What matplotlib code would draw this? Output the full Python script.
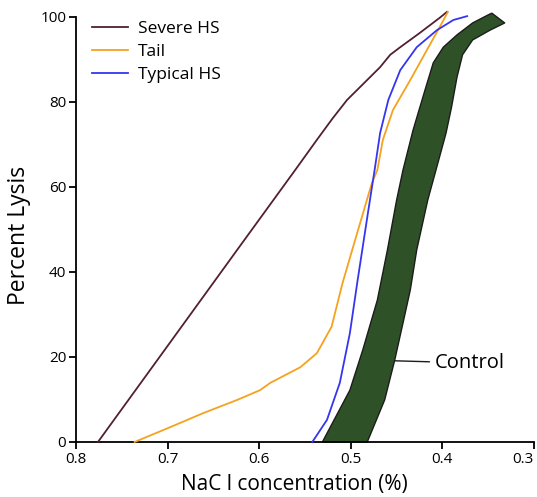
import numpy as np
import matplotlib
matplotlib.use('Agg')
import matplotlib.pyplot as plt

plt.rcParams['font.family'] = ['Open Sans', 'DejaVu Sans']

# values (NaCl %, percent lysis)
severe_x = [0.776, 0.70, 0.62, 0.56, 0.537, 0.52, 0.504, 0.482, 0.468, 0.457,
            0.446, 0.425, 0.403, 0.395]
severe_y = [0, 22.6, 46.4, 64.2, 71.1, 76.1, 80.5, 85.2, 88.2, 91.1,
            92.9, 96.2, 99.8, 101.2]

tail_x = [0.736, 0.697, 0.661, 0.624, 0.599, 0.588, 0.555, 0.537, 0.521, 0.509,
          0.493, 0.477, 0.471, 0.465, 0.454, 0.435, 0.417, 0.403, 0.394]
tail_y = [0, 3.5, 6.8, 9.9, 12.2, 13.9, 17.6, 20.9, 27.1, 37.4,
          49.2, 60.9, 64.0, 71.1, 78.1, 85.2, 92.2, 97.6, 101.2]

typical_x = [0.542, 0.526, 0.512, 0.501, 0.493, 0.482, 0.474, 0.468, 0.459,
             0.446, 0.428, 0.406, 0.388, 0.373]
typical_y = [0, 5.2, 13.9, 25.6, 37.4, 52.9, 64.0, 72.7, 80.5,
             87.5, 92.9, 96.9, 99.3, 100.2]

ctrl_lo_x = [0.531, 0.501, 0.487, 0.471, 0.460, 0.450, 0.443, 0.432, 0.419,
             0.410, 0.399, 0.384, 0.367, 0.350, 0.346]
ctrl_lo_y = [0, 12.2, 21.6, 33.4, 45.2, 56.9, 64.0, 73.4, 82.8,
             89.2, 92.9, 95.8, 98.6, 100.5, 100.9]
ctrl_hi_x = [0.482, 0.463, 0.452, 0.443, 0.435, 0.428, 0.416, 0.407, 0.396,
             0.390, 0.384, 0.378, 0.367, 0.348, 0.332]
ctrl_hi_y = [0, 9.9, 19.3, 28.0, 35.8, 45.2, 56.9, 64.0, 72.7,
             78.8, 85.9, 91.1, 94.6, 96.9, 98.6]

xticks = [0.8, 0.7, 0.6, 0.5, 0.4, 0.3]
yticks = [0, 20, 40, 60, 80, 100]

fig = plt.figure(figsize=(5.37, 4.97), dpi=100)
ax = fig.add_axes([0.1415, 0.1107, 0.8529, 0.8551])

# control band
band_x = ctrl_lo_x + ctrl_hi_x[::-1]
band_y = ctrl_lo_y + ctrl_hi_y[::-1]
ax.fill(band_x, band_y, facecolor='#2e5128', edgecolor='#1c1c1c',
        linewidth=1.0, clip_on=False, zorder=2, joinstyle='round')

ax.plot(severe_x, severe_y, color='#52202f', lw=1.3, label='Severe HS',
        clip_on=False, zorder=3, solid_joinstyle='round')
ax.plot(tail_x, tail_y, color='#f5a21e', lw=1.3, label='Tail',
        clip_on=False, zorder=3, solid_joinstyle='round')
ax.plot(typical_x, typical_y, color='#3535f0', lw=1.3, label='Typical HS',
        clip_on=False, zorder=3, solid_joinstyle='round')

ax.annotate('Control', xy=(0.4517, 19.1), xytext=(0.408, 18.6),
            fontsize=14.5, va='center', ha='left',
            arrowprops=dict(arrowstyle='-', color='#1c1c1c', lw=1.0,
                            shrinkA=2, shrinkB=0))

ax.set_xlim(0.8, 0.3)
ax.set_ylim(0, 100)
ax.set_xticks(xticks)
ax.set_xticklabels(['%.1f' % v for v in xticks])
ax.get_xticklabels()[-1].set_horizontalalignment('right')
ax.set_yticks(yticks)
ax.tick_params(labelsize=11, direction='out', length=5, width=1.3, pad=2)

for s in ['top', 'right']:
    ax.spines[s].set_visible(False)
for s in ['left', 'bottom']:
    ax.spines[s].set_linewidth(1.3)

ax.set_xlabel('NaC l concentration (%)', fontsize=15)
ax.xaxis.set_label_coords(0.477, -0.075)
ax.set_ylabel('Percent Lysis', fontsize=16.5)
ax.yaxis.set_label_coords(-0.098, 0.487)

ax.legend(loc='upper left', bbox_to_anchor=(92 / 537, 1 - 21 / 497),
          bbox_transform=fig.transFigure, frameon=False, fontsize=12.5,
          handlelength=2.05, handletextpad=0.62, labelspacing=0.38,
          borderpad=0, borderaxespad=0)

fig.savefig('out.png', dpi=100)
